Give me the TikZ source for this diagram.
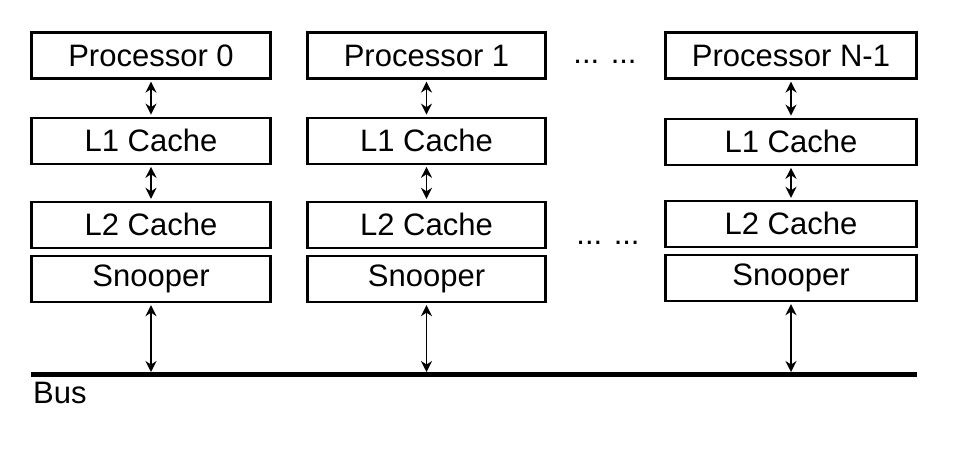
\documentclass[tikz,border=0pt]{standalone}
\usepackage{fontspec}
\setmainfont{Liberation Sans}
\usepackage{tikz}
\usetikzlibrary{positioning,arrows.meta}

\begin{document}
\begin{tikzpicture}[x=1pt,y=-1pt,
  block/.style={draw, line width=2.2pt, minimum height=46pt, inner sep=0pt,
                font=\fontsize{31}{36}\selectfont},
  link/.style={{Stealth[length=11pt,width=11pt]}-{Stealth[length=11pt,width=11pt]},
               line width=1.8pt, shorten >=2pt, shorten <=2pt},
  dots/.style={anchor=base, font=\fontsize{31}{36}\selectfont}]
\useasboundingbox (0,0) rectangle (974,449);

% processor 0
\node[block, minimum width=239pt] (proc0) at (151,55.5) {Processor 0};
\node[block, minimum width=239pt, below=37pt of proc0] (lone0) {L1 Cache};
\node[block, minimum width=239pt, below=36pt of lone0] (ltwo0) {L2 Cache};
\node[block, minimum width=239pt, below=6pt of ltwo0] (snoop0) {Snooper};

% processor 1
\node[block, minimum width=238pt] (proc1) at (426.5,55.5) {Processor 1};
\node[block, minimum width=238pt, below=37pt of proc1] (lone1) {L1 Cache};
\node[block, minimum width=238pt, below=36pt of lone1] (ltwo1) {L2 Cache};
\node[block, minimum width=238pt, below=6pt of ltwo1] (snoop1) {Snooper};

% processor N-1
\node[block, minimum width=251pt] (procN) at (791,55.5) {Processor N-1};
\node[block, minimum width=251pt, below=38pt of procN] (loneN) {L1 Cache};
\node[block, minimum width=251pt, below=34pt of loneN] (ltwoN) {L2 Cache};
\node[block, minimum width=251pt, below=6pt of ltwoN] (snoopN) {Snooper};

\node[dots] (dotsTop) at (605,64) {... ...};
\node[dots] (dotsMid) at (608,244) {... ...};

% bus
\coordinate (busL) at (31,374.5);
\coordinate (busR) at (917,374.5);
\draw[line width=5pt] (busL) -- (busR);
\node[anchor=north west, inner sep=0pt, font=\fontsize{31}{36}\selectfont]
  (bus) at (33,382) {Bus};

\draw[link] (proc0) -- (lone0);
\draw[link] (lone0) -- (ltwo0);
\draw[link] (proc1) -- (lone1);
\draw[link] (lone1) -- (ltwo1);
\draw[link] (procN) -- (loneN);
\draw[link] (loneN) -- (ltwoN);
\draw[link, shorten >=2.5pt] (snoop0) -- (snoop0 |- busL);
\draw[link, shorten >=2.5pt] (snoop1) -- (snoop1 |- busL);
\draw[link, shorten >=2.5pt] (snoopN) -- (snoopN |- busL);
\end{tikzpicture}
\end{document}
